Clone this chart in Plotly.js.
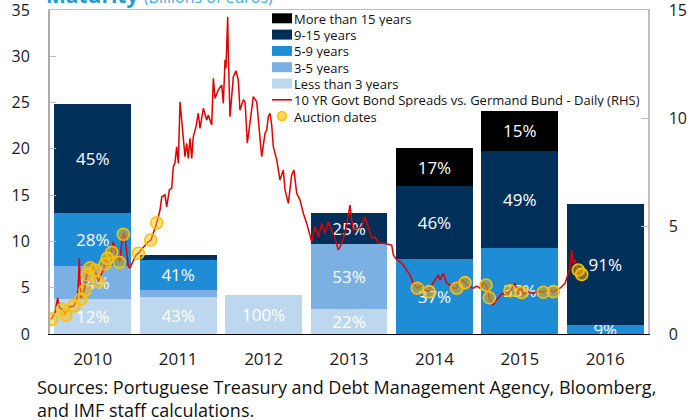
<!DOCTYPE html>
<html>
<head>
<meta charset="utf-8">
<script src="https://cdn.plot.ly/plotly-3.0.1.min.js"></script>
<style>html,body{margin:0;padding:0;background:#fff;}#chart{width:687px;height:420px;}</style>
</head>
<body>
<div id="chart"></div>
<script>
// ---- Data ----
var categories = ['2010','2011','2012','2013','2014','2015','2016'];

var lessThan3 = [3.75, 4.0, 4.2, 2.7, 0, 0, 0];
var years3to5 = [3.6, 0.75, 0, 7.0, 0, 0, 0];
var years5to9 = [5.7, 3.25, 0, 0, 8.07, 9.33, 1.0];
var years9to15 = [11.8, 0.55, 0, 3.34, 7.95, 10.44, 13.0];
var moreThan15 = [0, 0, 0, 0, 4.04, 4.36, 0];

var lessThan3Labels = ['12%','43%','100%','22%','','',''];
var years3to5Labels = ['14%','','','53%','','',''];
var years5to9Labels = ['28%','41%','','','37%','35%','9%'];
var years9to15Labels = ['45%','','','25%','46%','49%','91%'];
var moreThan15Labels = ['','','','','17%','15%',''];

// 10Y spread vs Bund (decimal year, percentage points)
var spreadDates = [2010.006,2010.023,2010.059,2010.090,2010.105,2010.117,2010.156,2010.184,2010.211,2010.234,
2010.281,2010.313,2010.328,2010.343,2010.355,2010.363,2010.402,2010.430,2010.445,2010.468,
2010.492,2010.527,2010.565,2010.597,2010.644,2010.664,2010.702,2010.722,2010.741,2010.761,
2010.784,2010.819,2010.837,2010.858,2010.872,2010.898,2010.917,2010.936,2010.975,2011.007,
2011.034,2011.065,2011.112,2011.147,2011.182,2011.217,2011.249,2011.288,2011.308,2011.346,
2011.366,2011.397,2011.425,2011.443,2011.463,2011.483,2011.502,2011.522,2011.542,2011.560,
2011.580,2011.600,2011.619,2011.639,2011.659,2011.677,2011.709,2011.736,2011.756,2011.795,
2011.834,2011.853,2011.893,2011.912,2011.932,2011.970,2012.010,2012.029,2012.049,2012.060,
2012.080,2012.087,2012.107,2012.146,2012.177,2012.204,2012.224,2012.263,2012.283,2012.310,
2012.341,2012.380,2012.420,2012.438,2012.478,2012.517,2012.537,2012.555,2012.575,2012.595,
2012.614,2012.654,2012.692,2012.731,2012.751,2012.790,2012.829,2012.856,2012.888,2012.927,
2012.965,2013.005,2013.035,2013.063,2013.102,2013.141,2013.181,2013.219,2013.258,2013.298,
2013.336,2013.375,2013.415,2013.453,2013.492,2013.512,2013.532,2013.551,2013.590,2013.649,
2013.687,2013.726,2013.766,2013.804,2013.843,2013.902,2013.960,2014.000,2014.019,2014.059,
2014.097,2014.136,2014.176,2014.214,2014.253,2014.300,2014.351,2014.390,2014.437,2014.468,
2014.507,2014.545,2014.565,2014.604,2014.644,2014.682,2014.721,2014.761,2014.800,2014.858,
2014.897,2014.955,2014.995,2015.034,2015.069,2015.104,2015.143,2015.189,2015.209,2015.248,
2015.288,2015.326,2015.385,2015.443,2015.470,2015.502,2015.541,2015.596,2015.658,2015.713,
2015.775,2015.830,2015.892,2015.970,2016.029,2016.067,2016.087,2016.107,2016.126,2016.146,
2016.184,2016.224];
var spreadValues = [0.69,0.74,1.02,1.67,1.34,1.20,1.11,0.88,1.16,1.26,
1.30,1.67,2.04,3.52,2.04,1.65,2.04,2.73,2.87,3.10,
3.19,2.96,2.42,2.73,3.19,3.52,3.61,3.86,4.27,3.89,
3.66,3.35,4.12,4.58,4.68,3.81,3.12,3.06,3.43,3.66,
3.74,3.89,4.12,4.26,4.35,4.72,5.14,5.74,6.34,6.44,
5.89,6.67,6.75,7.75,7.92,8.67,7.90,10.75,9.91,8.83,
8.21,8.83,8.13,9.06,8.13,9.13,9.60,10.22,9.52,10.45,
9.91,10.14,9.68,11.84,10.91,11.30,11.53,10.68,12.69,12.30,
14.69,13.00,10.06,11.91,12.19,11.76,10.37,10.83,10.75,8.83,
9.91,10.99,10.75,10.06,8.21,9.29,9.44,10.06,10.22,9.68,
8.67,8.06,7.13,7.59,6.67,6.05,7.36,7.59,6.51,6.20,
5.59,5.12,4.66,4.27,4.97,4.50,5.12,4.66,5.20,4.81,
4.43,3.89,4.20,4.66,5.66,5.97,5.28,4.81,4.89,4.97,
5.43,4.97,4.43,4.50,4.20,4.20,4.17,4.12,3.66,3.43,
3.35,3.19,2.96,2.73,2.35,2.12,2.27,2.04,1.96,2.27,
2.50,2.73,2.50,2.81,2.35,2.27,2.12,2.12,2.58,2.38,
2.19,2.12,2.22,2.12,2.36,2.27,1.68,1.34,1.50,1.65,
1.88,1.81,2.00,2.35,1.88,2.13,1.84,1.94,1.88,1.99,
1.93,2.04,1.96,2.12,2.35,2.81,3.04,3.89,3.27,3.43,
2.96,2.76];

var auctionDates = [2010.020,2010.144,2010.187,2010.281,2010.363,2010.410,2010.437,2010.468,2010.527,2010.565,
2010.644,2010.671,2010.722,2010.811,2010.858,2011.034,2011.179,2011.249,
2014.300,2014.437,2014.761,2014.858,
2015.104,2015.143,2015.385,2015.520,2015.775,2015.892,
2016.184,2016.224];
var auctionValues = [0.69,1.14,0.88,1.30,1.62,2.04,2.73,3.07,2.96,2.42,
3.24,3.50,3.78,3.32,4.62,3.74,4.35,5.15,
2.12,1.96,2.12,2.38,
2.27,1.68,2.00,1.92,1.93,1.96,
2.96,2.76];

var legendNames = ['More than 15 years','9-15 years','5-9 years','3-5 years','Less than 3 years',
  '10 YR Govt Bond Spreads vs. Germand Bund - Daily (RHS)','Auction dates'];

// ---- Styles ----
var FONT = '"Open Sans", "Noto Sans", sans-serif';
var C_GT15 = '#000000', C_915 = '#00305A', C_59 = '#1F8CD6', C_35 = '#7AB1E2', C_LT3 = '#BDD7EE';
var C_LINE = '#E00000';
var legendColors = [C_GT15, C_915, C_59, C_35, C_LT3, C_LINE, '#FFC000'];
var legendKinds = ['bar','bar','bar','bar','bar','line','marker'];

function barTrace(name, vals, labels, color) {
  return {
    type: 'bar', name: name, x: categories, y: vals, text: labels,
    textposition: 'inside', insidetextanchor: 'middle', constraintext: 'none',
    textangle: 0, textfont: {family: FONT, size: 17, color: '#FFFFFF'},
    marker: {color: color, line: {width: 0}},
    xaxis: 'x', yaxis: 'y', showlegend: false, hoverinfo: 'skip'
  };
}

var traces = [
  barTrace(legendNames[4], lessThan3, lessThan3Labels, C_LT3),
  barTrace(legendNames[3], years3to5, years3to5Labels, C_35),
  barTrace(legendNames[2], years5to9, years5to9Labels, C_59),
  barTrace(legendNames[1], years9to15, years9to15Labels, C_915),
  barTrace(legendNames[0], moreThan15, moreThan15Labels, C_GT15),
  {
    type: 'scatter', mode: 'lines', name: legendNames[5],
    x: spreadDates, y: spreadValues, xaxis: 'x2', yaxis: 'y2',
    line: {color: C_LINE, width: 1.5}, showlegend: false, hoverinfo: 'skip'
  },
  {
    type: 'scatter', mode: 'markers', name: legendNames[6],
    x: auctionDates, y: auctionValues, xaxis: 'x2', yaxis: 'y2',
    marker: {size: 12, color: 'rgba(255,192,0,0.45)', line: {color: '#FFC000', width: 1.6}},
    showlegend: false, hoverinfo: 'skip'
  }
];

// ---- Manual legend (compact spacing as in the original) ----
var PW = 598, PH = 324, ML = 50, MT = 10;
function px2x(px) { return (px - ML) / PW; }
function py2y(py) { return (MT + PH - py) / PH; }

var shapes = [];
var annotations = [];
for (var i = 0; i < legendNames.length; i++) {
  var cy = 18.3 + i * 16.3;
  var yc = py2y(cy);
  var xa = px2x(282);
  if (legendKinds[i] === 'bar') {
    shapes.push({type: 'rect', xref: 'paper', yref: 'paper', xsizemode: 'pixel', ysizemode: 'pixel',
      xanchor: xa, yanchor: yc, x0: -10, x1: 10, y0: -5, y1: 5,
      fillcolor: legendColors[i], line: {width: 0}});
  } else if (legendKinds[i] === 'line') {
    shapes.push({type: 'line', xref: 'paper', yref: 'paper', xsizemode: 'pixel', ysizemode: 'pixel',
      xanchor: xa, yanchor: yc, x0: -10, x1: 10, y0: 0, y1: 0,
      line: {color: legendColors[i], width: 1.6}});
  } else {
    shapes.push({type: 'circle', xref: 'paper', yref: 'paper', xsizemode: 'pixel', ysizemode: 'pixel',
      xanchor: xa, yanchor: yc, x0: -4.5, x1: 4.5, y0: -4.5, y1: 4.5,
      fillcolor: 'rgba(255,200,40,0.75)', line: {color: '#FFC000', width: 1.5}});
  }
  annotations.push({xref: 'paper', yref: 'paper', x: px2x(292.5), y: yc, xanchor: 'left', yanchor: 'middle',
    text: legendNames[i], showarrow: false, borderpad: 0, height: 15,
    font: {family: FONT, size: 13, color: '#111'}});
}

// title (cut off at the top in the original)
annotations.push({xref: 'paper', yref: 'paper', x: px2x(45), y: 1, xanchor: 'left', yanchor: 'bottom',
  showarrow: false, borderpad: 0,
  text: '<b>Maturity</b> <span style="font-size:16px;color:#45ACE0">(Billions of euros)</span>',
  font: {family: FONT, size: 21, color: '#1E9AD6'}});

// source note
annotations.push({xref: 'paper', yref: 'paper', x: px2x(35), y: py2y(398.5), xanchor: 'left', yanchor: 'middle',
  align: 'left', showarrow: false,
  text: 'Sources: Portuguese Treasury and Debt Management Agency, Bloomberg,<br>and IMF staff calculations.',
  font: {family: FONT, size: 18, color: '#111'}});

var layout = {
  width: 687, height: 420,
  margin: {l: ML, r: 39, t: MT, b: 86, pad: 0},
  paper_bgcolor: '#FFFFFF', plot_bgcolor: '#FFFFFF',
  font: {family: FONT, color: '#1a1a1a', size: 17},
  barmode: 'stack', bargap: 0.1,
  showlegend: false,
  xaxis: {
    type: 'category', range: [-0.5, 6.5], showline: true, linecolor: '#000000', linewidth: 1,
    ticks: '', showgrid: false, zeroline: false,
    tickfont: {family: FONT, size: 17, color: '#1a1a1a'}, ticklabelstandoff: 10
  },
  xaxis2: {
    type: 'linear', range: [2010, 2017], overlaying: 'x', side: 'top', anchor: 'y2',
    showline: true, linecolor: '#BFBFBF', linewidth: 1.5, ticks: '', showticklabels: false,
    showgrid: false, zeroline: false
  },
  yaxis: {
    range: [0, 35], dtick: 5, tick0: 0, showline: true, linecolor: '#ABABAB', linewidth: 2,
    ticks: 'inside', ticklen: 6, tickcolor: '#BFBFBF', tickwidth: 1,
    showgrid: false, zeroline: false, ticklabeloverflow: 'allow',
    tickfont: {family: FONT, size: 16, color: '#1a1a1a'}, ticklabelstandoff: 15
  },
  yaxis2: {
    range: [0, 15], tickvals: [0, 5, 10, 15], overlaying: 'y', side: 'right', anchor: 'x2',
    showline: true, linecolor: '#BFBFBF', linewidth: 1.5,
    ticks: 'inside', ticklen: 7, tickcolor: '#BFBFBF', tickwidth: 1,
    showgrid: false, zeroline: false, ticklabeloverflow: 'allow',
    tickfont: {family: FONT, size: 16, color: '#1a1a1a'}, ticklabelstandoff: 16
  },
  shapes: shapes,
  annotations: annotations
};

Plotly.newPlot('chart', traces, layout, {staticPlot: true, displayModeBar: false});
</script>
</body>
</html>
